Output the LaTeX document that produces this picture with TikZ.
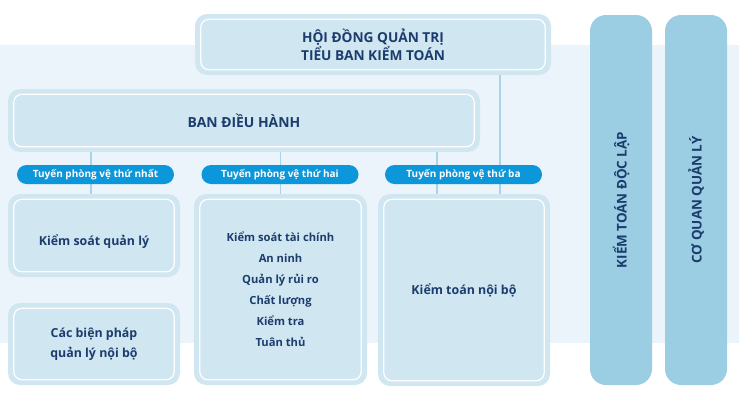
\documentclass[tikz,border=0pt]{standalone}
\usepackage{fontspec}
\setmainfont{Open Sans}
\definecolor{bandbg}{HTML}{EBF4FB}
\definecolor{boxfill}{HTML}{D0E7F1}
\definecolor{linkblue}{HTML}{A8D3E8}
\definecolor{pillblue}{HTML}{0B97D9}
\definecolor{barblue}{HTML}{9CCEE3}
\definecolor{navy}{HTML}{1C3C6E}
\tikzset{
  unit/.style={fill=boxfill, rounded corners=12pt, inner sep=0pt,
    text=navy, font=\bfseries\fontsize{12.4}{20}\selectfont, align=center},
  innerline/.style={draw=white, line width=1.2pt, rounded corners=8pt},
  pill/.style={fill=pillblue, rounded corners=9.5pt, minimum width=157pt,
    minimum height=19pt, inner sep=0pt, text=white,
    font=\bfseries\fontsize{10}{11}\selectfont},
  bar/.style={fill=barblue, rounded corners=16pt, rotate=90, inner sep=0pt,
    minimum width=370pt, minimum height=62pt, text=navy,
    font=\bfseries\fontsize{13.4}{14}\selectfont},
  link/.style={draw=linkblue, line width=1.3pt}
}
\begin{document}
\begin{tikzpicture}[x=1pt,y=-1pt]
  \useasboundingbox (0,0) rectangle (739,400);
  \fill[bandbg] (0,45) rectangle (739,343);
  % units
  \node[unit, minimum width=356pt, minimum height=61pt,
    font=\bfseries\fontsize{13.7}{16.5}\selectfont] (hdqt) at (373,44.5)
    {HỘI ĐỒNG QUẢN TRỊ\\TIỂU BAN KIỂM TOÁN};
  \node[unit, minimum width=472pt, minimum height=63pt,
    font=\bfseries\fontsize{13.9}{16}\selectfont] (bdh) at (244,120.5)
    {BAN ĐIỀU HÀNH};
  \node[unit, minimum width=172pt, minimum height=83pt,
    text height=22pt, text depth=2.5pt] (ksql) at (94,235.5)
    {Kiểm soát quản lý};
  \node[unit, minimum width=172pt, minimum height=82pt] (cbp) at (94,344)
    {Các biện pháp\\quản lý nội bộ};
  \node[unit, minimum width=173pt, minimum height=191pt,
    font=\bfseries\fontsize{11.2}{21}\selectfont] (tc) at (280.5,289.5)
    {Kiểm soát tài chính\\An ninh\\Quản lý rủi ro\\Chất lượng\\Kiểm tra\\Tuân thủ};
  \node[unit, minimum width=172pt, minimum height=192pt] (ktnb) at (464,290)
    {Kiểm toán nội bộ};
  \foreach \n in {hdqt,bdh,ksql,cbp,tc,ktnb}
    \draw[innerline] ([xshift=6pt,yshift=-5.5pt]\n.north west)
      rectangle ([xshift=-6pt,yshift=5.5pt]\n.south east);
  % lines of defence
  \begin{scope}[link]
    \draw ([xshift=-3pt]ksql.north) -- ([xshift=-3pt]ksql.north |- bdh.south);
    \draw (tc.north) -- (tc.north |- bdh.south);
    \draw ([xshift=-27pt]ktnb.north) -- ([xshift=-27pt]ktnb.north |- bdh.south);
    \draw ([xshift=36pt]ktnb.north) -- ([xshift=36pt]ktnb.north |- hdqt.south);
  \end{scope}
  \node[pill] (p1) at (95.5,174.5) {Tuyến phòng vệ thứ nhất};
  \node[pill] (p2) at (280,174.5) {Tuyến phòng vệ thứ hai};
  \node[pill] (p3) at (463.5,174.5) {Tuyến phòng vệ thứ ba};
  % outside parties
  \node[bar] (ktdl) at (621,200) {KIỂM TOÁN ĐỘC LẬP};
  \node[bar] (cqql) at (696,200) {CƠ QUAN QUẢN LÝ};
\end{tikzpicture}
\end{document}
